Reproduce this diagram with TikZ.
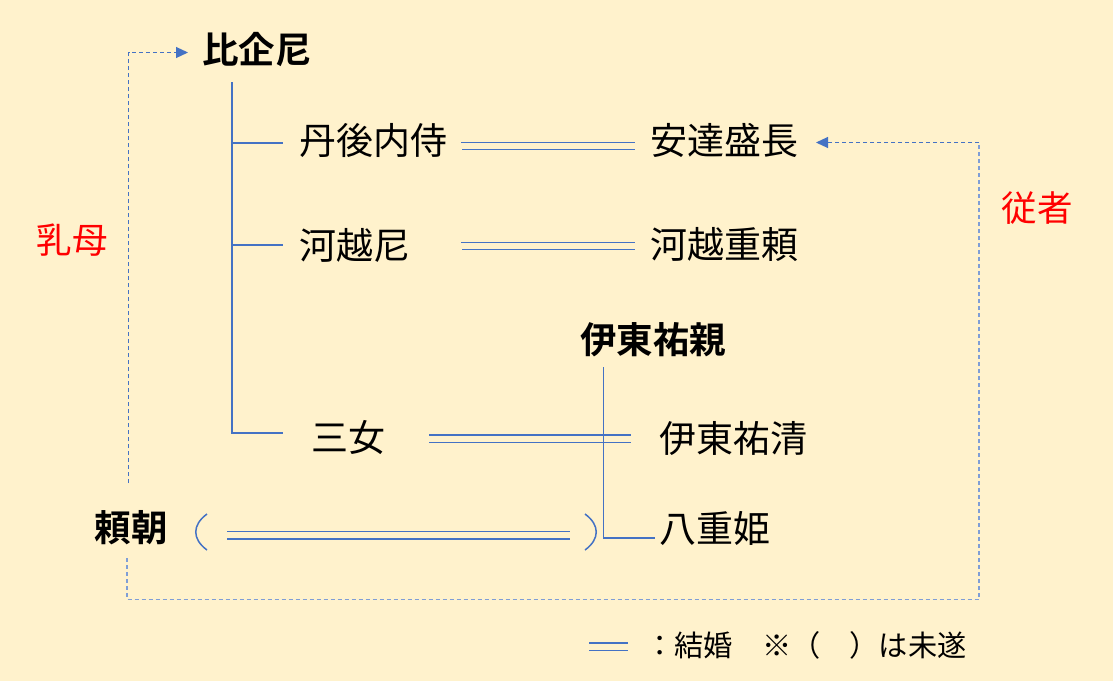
\documentclass[tikz,border=0pt]{standalone}
\usepackage{fontspec}
\newfontfamily\jp{Noto Sans CJK JP}
\newfontfamily\jpb{Noto Sans CJK JP Bold}
\usetikzlibrary{arrows.meta}
\definecolor{bg}{HTML}{FFF2CC}
\definecolor{ln}{HTML}{4472C4}
\definecolor{dl}{HTML}{7F9ED6}
\tikzset{
  nm/.style={inner sep=0pt, font=\jp\fontsize{37}{40}\selectfont, text=black},
  bnm/.style={inner sep=0pt, font=\jpb\fontsize{36.5}{40}\selectfont, text=black},
  rednm/.style={inner sep=0pt, font=\jp\fontsize{35.5}{40}\selectfont, text=red},
  tree/.style={draw=ln, line width=1.1pt},
  dbl/.style={draw=ln, line width=1.1pt},
  dash1/.style={draw=ln, line width=1.1pt, dash pattern=on 4pt off 3pt},
  dash2/.style={draw=dl, line width=1.1pt, dash pattern=on 4pt off 3pt},
  tip/.style={-{Triangle[length=12pt,width=11pt]}},
}
\begin{document}
\begin{tikzpicture}[x=1pt,y=-1pt]
\fill[bg] (0,0) rectangle (1113,681);
\useasboundingbox (0,0) rectangle (1113,681);

% names
\node[bnm] (hiki) at (257,50) {比企尼};
\node[nm] (tango) at (373,140) {丹後内侍};
\node[nm] (adachi) at (724,140) {安達盛長};
\node[nm] (kawagoeama) at (355,245) {河越尼};
\node[nm] (shigeyori) at (724,245) {河越重頼};
\node[bnm] (sukechika) at (653,340) {伊東祐親};
\node[nm] (sanjo) at (348,438) {三女};
\node[nm] (sukekiyo) at (733,438) {伊東祐清};
\node[bnm] (yoritomo) at (131,528) {頼朝};
\node[nm] (yaehime) at (715,528) {八重姫};
\node[rednm] (menoto) at (72,240) {乳母};
\node[rednm] (jusha) at (1037,208) {従者};

% tree of 比企尼
\coordinate (t0) at (232,82);
\coordinate (t1) at (232,143);
\coordinate (t2) at (232,245);
\coordinate (t3) at (232,433);
\coordinate (b1) at (283,143);
\coordinate (b2) at (283,245);
\coordinate (b3) at (283,433);
\draw[tree] (t0) -- (t3) -- (b3);
\draw[tree] (t1) -- (b1);
\draw[tree] (t2) -- (b2);

% tree of 伊東祐親
\coordinate (s0) at (603.5,367);
\coordinate (s1) at (603.5,538);
\coordinate (s2) at (655,538);
\draw[tree] (s0) -- (s1) -- (s2);

% marriages
\coordinate (m1a) at (461,142.5); \coordinate (m1b) at (635,142.5);
\coordinate (m1c) at (462,149.5); \coordinate (m1d) at (635,149.5);
\draw[dbl] (m1a) -- (m1b); \draw[dbl] (m1c) -- (m1d);
\coordinate (m2a) at (461,242.5); \coordinate (m2b) at (635,242.5);
\coordinate (m2c) at (462,249.5); \coordinate (m2d) at (635,249.5);
\draw[dbl] (m2a) -- (m2b); \draw[dbl] (m2c) -- (m2d);
\coordinate (m3a) at (429,435); \coordinate (m3b) at (631,435);
\coordinate (m3c) at (429,442.5); \coordinate (m3d) at (631,442.5);
\draw[dbl] (m3a) -- (m3b); \draw[dbl] (m3c) -- (m3d);
\coordinate (m4a) at (227,531.5); \coordinate (m4b) at (570,531.5);
\coordinate (m4c) at (227,539); \coordinate (m4d) at (570,539);
\draw[dbl] (m4a) -- (m4b); \draw[dbl] (m4c) -- (m4d);

% parentheses
\coordinate (pl1) at (207,514); \coordinate (pl2) at (207,550);
\draw[ln, line width=1.5pt] (pl1) .. controls (192,525) and (192,539) .. (pl2);
\coordinate (pr1) at (585,514); \coordinate (pr2) at (585,550);
\draw[ln, line width=1.5pt] (pr1) .. controls (600,525) and (600,539) .. (pr2);

% 乳母 arrow
\coordinate (a0) at (128.5,483);
\coordinate (a1) at (128.5,52.5);
\coordinate (a2) at (188,52.5);
\draw[dash1, tip] (a0) -- (a1) -- (a2);

% 従者 arrow
\coordinate (j0) at (127,558);
\coordinate (j1) at (127,599.5);
\coordinate (j2) at (979,599.5);
\coordinate (j3) at (979,142.5);
\coordinate (j4) at (816,142.5);
\draw[dash2] (j0) -- (j1) -- (j2) -- (j3);
\draw[dash1, tip] (j3) -- (j4);

% legend
\coordinate (l1) at (589,643); \coordinate (l2) at (628,643);
\coordinate (l3) at (589,650.5); \coordinate (l4) at (628,650.5);
\draw[dbl] (l1) -- (l2); \draw[dbl] (l3) -- (l4);
\node[inner sep=0pt, anchor=west, font=\jp\fontsize{29.2}{32}\selectfont] (legend) at (645,645) {：結婚　※（　）は未遂};
\end{tikzpicture}
\end{document}
